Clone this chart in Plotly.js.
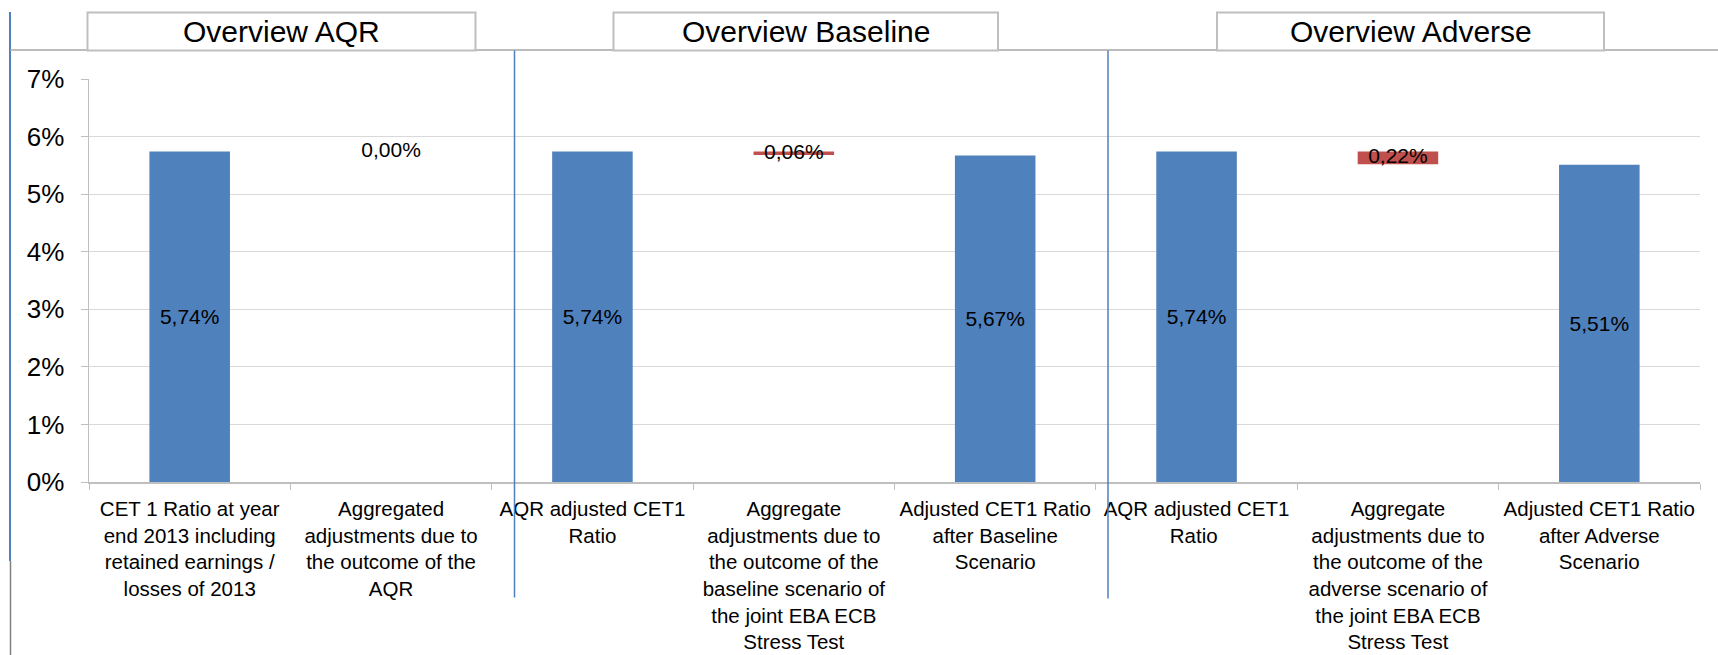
<!DOCTYPE html>
<html>
<head>
<meta charset="utf-8">
<script src="https://cdn.plot.ly/plotly-3.0.1.min.js"></script>
<style>html,body{margin:0;padding:0;background:#fff;}#chart{width:1718px;height:655px;}</style>
</head>
<body>
<div id="chart"></div>
<script>
// ---- data ----
var categories = [
  "CET 1 Ratio at year<br>end 2013 including<br>retained earnings /<br>losses of 2013",
  "Aggregated<br>adjustments due to<br>the outcome of the<br>AQR",
  "AQR adjusted CET1<br>Ratio",
  "Aggregate<br>adjustments due to<br>the outcome of the<br>baseline scenario of<br>the joint EBA ECB<br>Stress Test",
  "Adjusted CET1 Ratio<br>after Baseline<br>Scenario",
  "AQR adjusted CET1<br>Ratio ",
  "Aggregate<br>adjustments due to<br>the outcome of the<br>adverse scenario of<br>the joint EBA ECB<br>Stress Test",
  "Adjusted CET1 Ratio<br>after Adverse<br>Scenario"
];
// totals (blue bars), null where the bar is an adjustment
var totals      = [5.74, null, 5.74, null, 5.67, 5.74, null, 5.51];
// adjustments (red floating bars), drawn down from the preceding total
var adjustments = [null, 0.00, null, 0.06, null, null, 0.22, null];
var adjBaseFrom = [null, 5.74, null, 5.74, null, null, 5.74, null];
var yTicks = [0, 1, 2, 3, 4, 5, 6, 7];
var panelTitles = ["Overview AQR", "Overview Baseline", "Overview Adverse"];

function fmt(v) { return v.toFixed(2).replace('.', ',') + '%'; }

var blueText = totals.map(function (v) { return v == null ? '' : fmt(v); });
var redBase = adjustments.map(function (v, i) { return v == null ? null : adjBaseFrom[i] - v; });
var redMid = adjustments.map(function (v, i) { return v == null ? null : adjBaseFrom[i] - v / 2; });
var redText = adjustments.map(function (v) { return v == null ? '' : fmt(v); });

var traces = [
  {
    type: 'bar', x: categories, y: totals,
    marker: { color: '#4F81BD', line: { width: 0 } },
    text: blueText, textposition: 'inside', insidetextanchor: 'middle', textangle: 0,
    textfont: { family: 'Liberation Sans, Arial, sans-serif', size: 21, color: '#000' },
    hoverinfo: 'skip', cliponaxis: false
  },
  {
    type: 'bar', x: categories, y: adjustments, base: redBase,
    marker: { color: '#C0504D', line: { width: 0 } },
    hoverinfo: 'skip'
  },
  {
    type: 'scatter', mode: 'text', x: categories, y: redMid,
    text: redText, textposition: 'middle center',
    textfont: { family: 'Liberation Sans, Arial, sans-serif', size: 21, color: '#000' },
    hoverinfo: 'skip', cliponaxis: false
  }
];

// ---- layout decoration helpers (pixel -> paper) ----
var W = 1718, H = 655, ML = 89, MR = 18, MT = 79, MB = 173;
var PW = W - ML - MR, PH = H - MT - MB;
function px(x) { return (x - ML) / PW; }
function py(y) { return (H - MB - y) / PH; }

function vline(x, y0, y1, color, w) {
  return { type: 'line', xref: 'paper', yref: 'paper', x0: px(x), x1: px(x), y0: py(y0), y1: py(y1),
           line: { color: color, width: w } };
}
var boxes = [[87.5, 475.5], [613.5, 998], [1217, 1604]];
var shapes = [
  vline(10, 12, 561, '#4F81BD', 2),
  vline(10.5, 561, 655, '#808080', 1.5),
  { type: 'line', xref: 'paper', yref: 'paper', x0: px(10), x1: px(1718), y0: py(50), y1: py(50),
    line: { color: '#A6A6A6', width: 1.5 } },
  vline(514.5, 50.5, 597.5, '#4F81BD', 1.5),
  vline(1108, 50.5, 598.5, '#4F81BD', 1.5)
];
var annotations = [];
boxes.forEach(function (b, i) {
  shapes.push({ type: 'rect', xref: 'paper', yref: 'paper', x0: px(b[0]), x1: px(b[1]), y0: py(12.5), y1: py(50.5),
                fillcolor: '#FFFFFF', line: { color: '#BFBFBF', width: 2 } });
  annotations.push({ xref: 'paper', yref: 'paper', x: px((b[0] + b[1]) / 2), y: py(31.5),
                     xanchor: 'center', yanchor: 'middle', showarrow: false, text: panelTitles[i],
                     font: { family: 'Liberation Sans, Arial, sans-serif', size: 30, color: '#000' } });
});

var layout = {
  width: W, height: H,
  margin: { l: ML, r: MR, t: MT, b: MB, pad: 0 },
  paper_bgcolor: '#fff', plot_bgcolor: '#fff',
  showlegend: false, barmode: 'overlay', bargap: 0.6,
  font: { family: 'Liberation Sans, Arial, sans-serif', color: '#000' },
  xaxis: {
    type: 'category', tickson: 'boundaries', ticks: 'outside', ticklen: 6, tickcolor: '#BFBFBF',
    showline: true, linecolor: '#BFBFBF', linewidth: 1.5, showgrid: false, zeroline: false,
    tickfont: { size: 20.5, color: '#000' }, tickangle: 0, range: [-0.5, 7.5], automargin: false,
    ticklabelstandoff: 8
  },
  yaxis: {
    range: [0, 7], tickmode: 'array', tickvals: yTicks,
    ticktext: yTicks.map(function (t) { return t + '%'; }),
    ticks: 'outside', ticklen: 7, tickcolor: '#BFBFBF', showline: true, linecolor: '#BFBFBF', linewidth: 1.5,
    gridcolor: '#D9D9D9', gridwidth: 1, zeroline: false,
    tickfont: { size: 26, color: '#000' }, ticklabelstandoff: 11, automargin: false
  },
  shapes: shapes,
  annotations: annotations
};

Plotly.newPlot('chart', traces, layout, { staticPlot: true, displayModeBar: false });
</script>
</body>
</html>
